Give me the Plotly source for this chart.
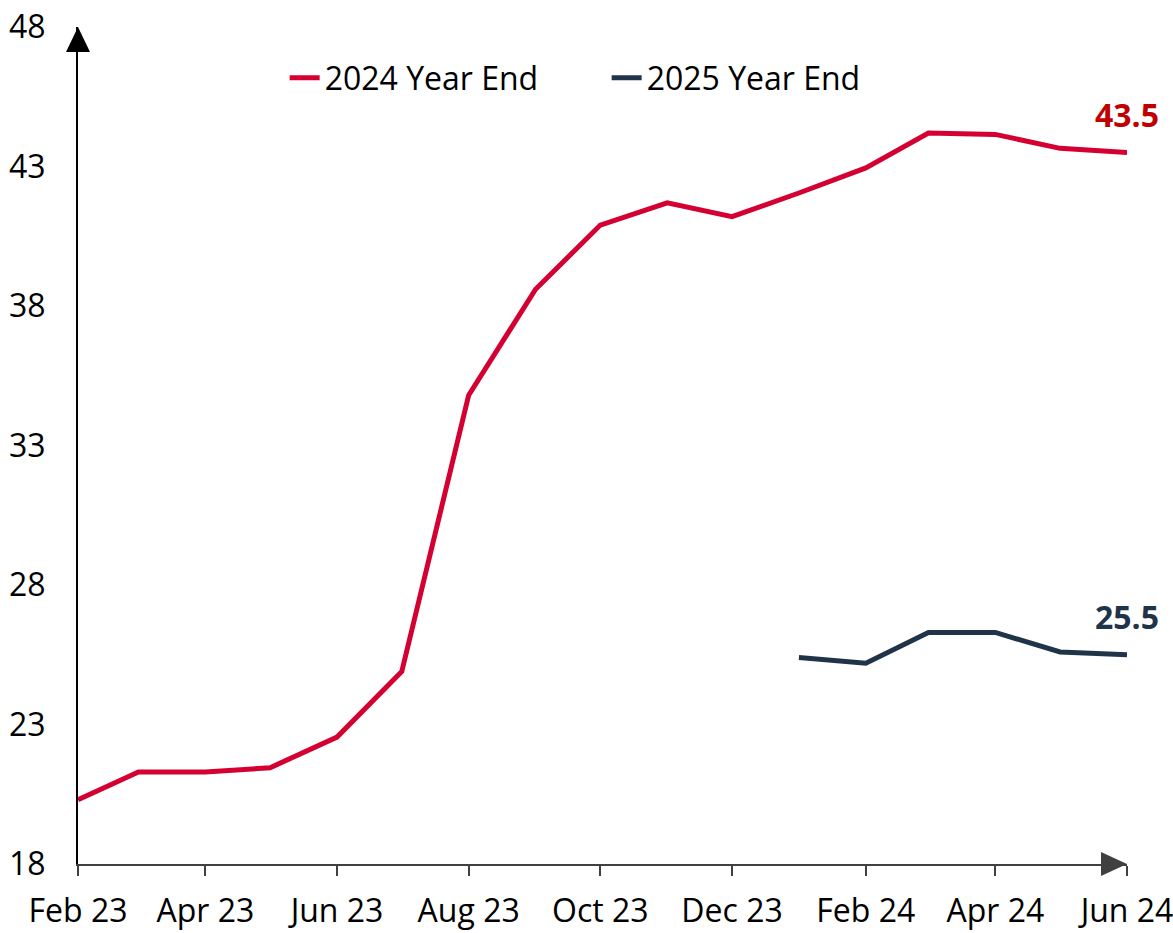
import plotly.graph_objects as go

months = ["2023-02-01", "2023-03-01", "2023-04-01", "2023-05-01", "2023-06-01", "2023-07-01",
          "2023-08-01", "2023-09-01", "2023-10-01", "2023-11-01", "2023-12-01", "2024-01-01",
          "2024-02-01", "2024-03-01", "2024-04-01", "2024-05-01", "2024-06-01"]
y_ticks = [18, 23, 28, 33, 38, 43, 48]

ye2024 = [20.3, 21.3, 21.3, 21.45, 22.55, 24.9, 34.8, 38.6, 40.9, 41.7, 41.2, 42.05, 42.95, 44.2, 44.15, 43.65, 43.5]
ye2025_months = ["2024-01-01", "2024-02-01", "2024-03-01", "2024-04-01", "2024-05-01", "2024-06-01"]
ye2025 = [25.4, 25.2, 26.3, 26.3, 25.6, 25.5]

RED = "#D50032"
NAVY = "#1F3449"
FONT = "Open Sans"
FS = 32

fig = go.Figure()
fig.add_trace(go.Scatter(x=months, y=ye2024, mode="lines", name="2024 Year End",
                         line=dict(color=RED, width=5)))
fig.add_trace(go.Scatter(x=ye2025_months, y=ye2025, mode="lines", name="2025 Year End",
                         line=dict(color=NAVY, width=5)))

fig.add_annotation(x=months[-1], y=ye2024[-1], text="<b>43.5</b>", showarrow=False,
                   yshift=38, font=dict(family=FONT, size=FS, color="#C00000"))
fig.add_annotation(x=ye2025_months[-1], y=ye2025[-1], text="<b>25.5</b>", showarrow=False,
                   yshift=38, font=dict(family=FONT, size=FS, color=NAVY))

# axis arrowheads (paper-referenced so they are not clipped)
fig.add_shape(type="path", xref="paper", yref="paper", xsizemode="pixel", ysizemode="pixel",
              xanchor=0, yanchor=1, path="M -12,-25 L 12,-25 L 0,0 Z",
              fillcolor="black", line=dict(width=0))
fig.add_shape(type="path", xref="paper", yref="paper", xsizemode="pixel", ysizemode="pixel",
              xanchor=1, yanchor=0, path="M -26,-12 L -26,12 L 0,0 Z",
              fillcolor="#404040", line=dict(width=0))

fig.update_layout(
    width=1173, height=933,
    margin=dict(l=78, r=46, t=27, b=69),
    plot_bgcolor="white", paper_bgcolor="white",
    font=dict(family=FONT, size=FS, color="black"),
    showlegend=True,
    legend=dict(orientation="h", x=0.197, y=0.939, xanchor="left", yanchor="middle",
                font=dict(size=FS), bgcolor="rgba(0,0,0,0)",
                entrywidth=277, entrywidthmode="pixels"),
)
fig.update_xaxes(type="date", range=[months[0], months[-1]],
                 tick0=months[0], dtick="M2", tickformat="%b %y",
                 showgrid=False, zeroline=False, showline=True, linecolor="#404040", linewidth=2,
                 ticks="outside", ticklen=10, tickwidth=2, tickcolor="#404040",
                 ticklabelstandoff=8, tickfont=dict(size=FS), automargin=False,
                 ticklabeloverflow="allow")
fig.update_yaxes(range=[18, 48], tickvals=y_ticks, showgrid=False, zeroline=False,
                 showline=True, linecolor="black", linewidth=2, ticks="",
                 ticklabelstandoff=24, tickfont=dict(size=FS), automargin=False,
                 ticklabeloverflow="allow")

fig.write_html("out.html", config={"displayModeBar": False},
               post_script="document.body.style.margin='0';document.body.style.overflow='hidden';")
